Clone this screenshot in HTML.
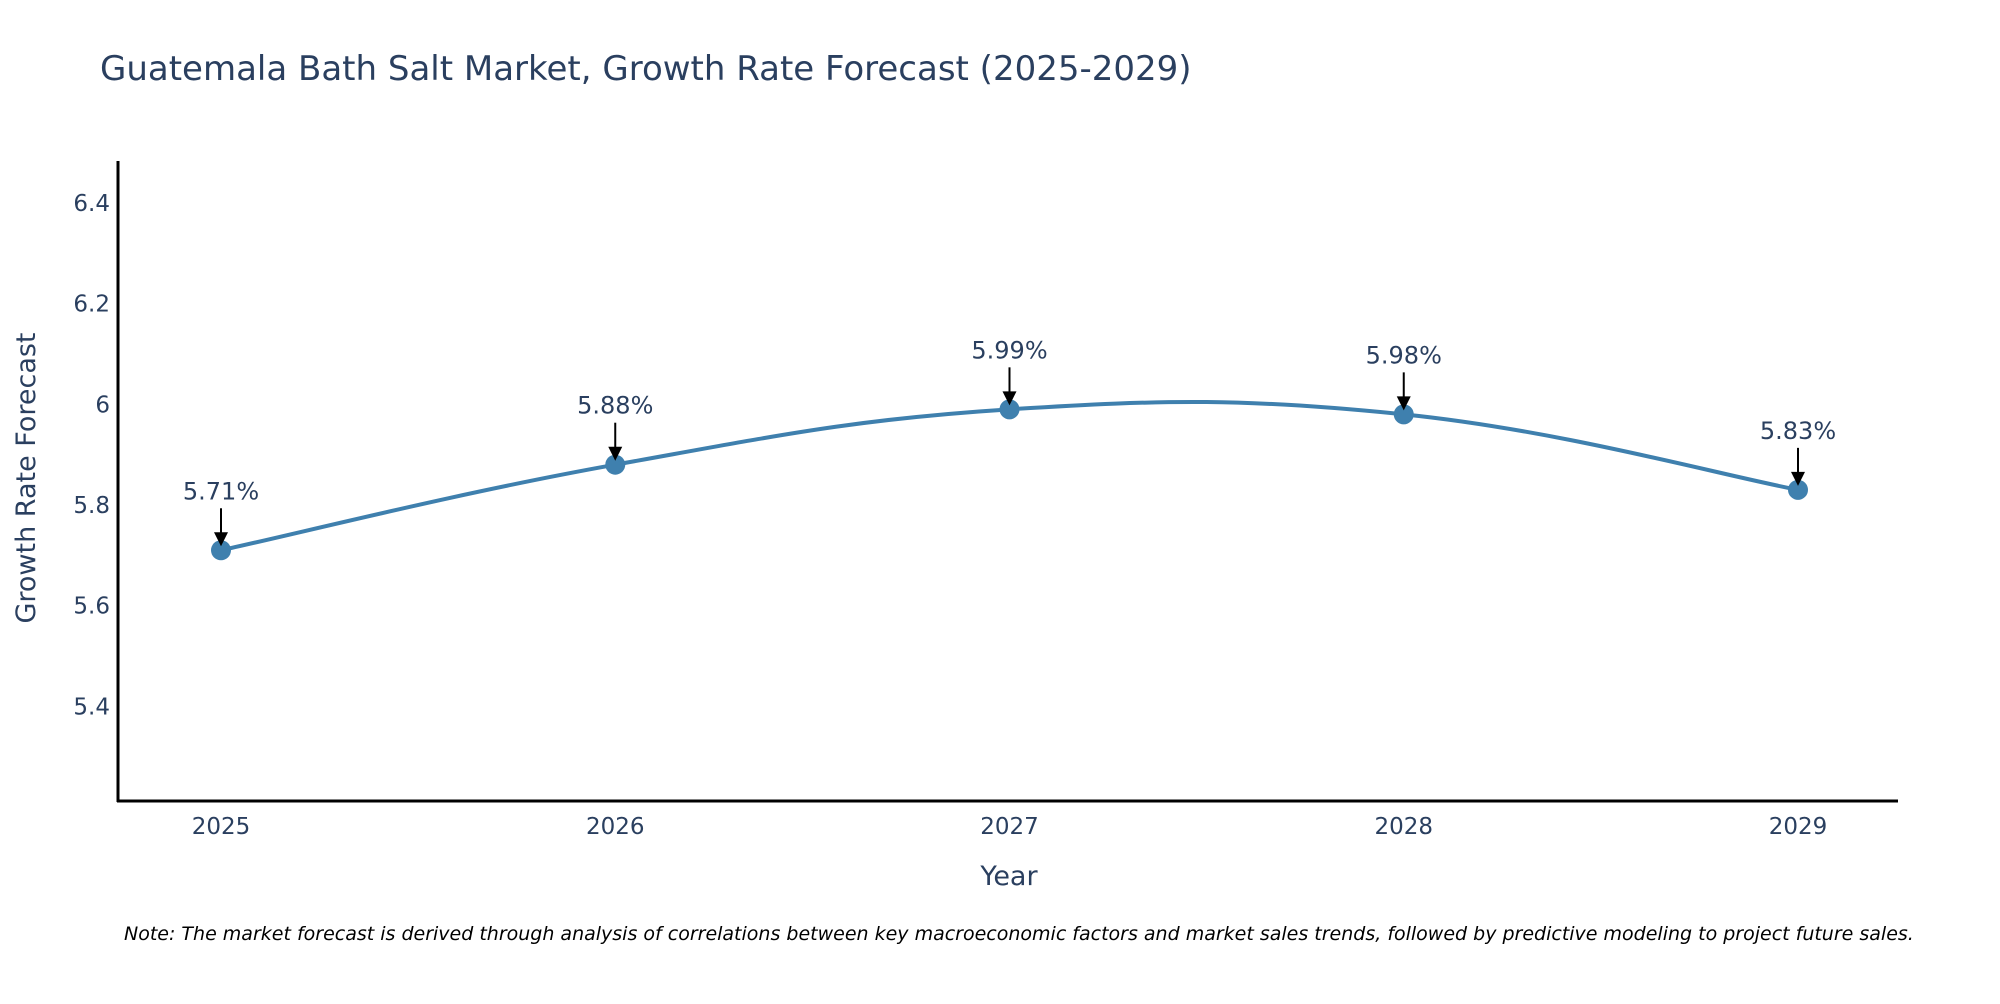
<!DOCTYPE html>
<html><head><meta charset="utf-8"><style>
body{margin:0;background:#fff;font-family:"DejaVu Sans","Liberation Sans",sans-serif;}
svg text{fill:#2a3f5f;font-family:"DejaVu Sans","Liberation Sans",sans-serif;}
</style></head><body>
<svg id="chart" width="2000" height="1000" xmlns="http://www.w3.org/2000/svg">
<text x="100" y="80" font-size="34">Guatemala Bath Salt Market, Growth Rate Forecast (2025-2029)</text>
<g id="yticks"></g>
<g id="xticks"></g>
<path id="line" fill="none" stroke="#3f80ae" stroke-width="4"/>
<g id="points"></g>
<g id="annos"></g>
<line x1="118" y1="161" x2="118" y2="802" stroke="#000" stroke-width="3"/>
<line x1="117" y1="801" x2="1898" y2="801" stroke="#000" stroke-width="3"/>
<text x="1009" y="885" font-size="27" text-anchor="middle">Year</text>
<text transform="translate(35,478) rotate(-90)" font-size="27" text-anchor="middle">Growth Rate Forecast</text>
<text x="124" y="940" font-size="19" font-style="italic" style="fill:#000">Note: The market forecast is derived through analysis of correlations between key macroeconomic factors and market sales trends, followed by predictive modeling to project future sales.</text>
</svg>
<script>
const years=[2025,2026,2027,2028,2029];
const values=[5.71,5.88,5.99,5.98,5.83];
const yTickValues=[5.4,5.6,5.8,6,6.2,6.4];
const NS="http://www.w3.org/2000/svg";
function xs(v){return 221+(v-2025)*394.25;}
function ys(v){return 404.3-(v-6)*503.3;}
function mk(tag,attrs,parent){const e=document.createElementNS(NS,tag);for(const k in attrs)e.setAttribute(k,attrs[k]);parent.appendChild(e);return e;}
const yt=document.getElementById('yticks');
yTickValues.forEach(v=>{const t=mk('text',{x:110,y:ys(v)+8,'font-size':23,'text-anchor':'end'},yt);


t.textContent=String(v);});
const xt=document.getElementById('xticks');
years.forEach(v=>{const t=mk('text',{x:xs(v),y:834,'font-size':23,'text-anchor':'middle'},xt);


t.textContent=String(v);});
const P=years.map((y,i)=>[xs(y),ys(values[i])]);
let d='M'+P[0][0]+','+P[0][1];const s=0.2;
for(let i=0;i<P.length-1;i++){const p0=P[Math.max(0,i-1)],p1=P[i],p2=P[i+1],p3=P[Math.min(P.length-1,i+2)];
const c1=[p1[0]+(p2[0]-p0[0])*s,p1[1]+(p2[1]-p0[1])*s],c2=[p2[0]-(p3[0]-p1[0])*s,p2[1]-(p3[1]-p1[1])*s];
d+=' C'+c1+' '+c2+' '+p2;}
document.getElementById('line').setAttribute('d',d);
const pts=document.getElementById('points'),an=document.getElementById('annos');
P.forEach((p,i)=>{const c=mk('circle',{cx:p[0],cy:p[1],r:10,fill:'#3f80ae'},pts);


const l=mk('line',{x1:p[0],y1:p[1]-42,x2:p[0],y2:p[1]-16,stroke:'#000','stroke-width':2},an);


const h=mk('polygon',{points:(p[0]-7)+','+(p[1]-18)+' '+(p[0]+7)+','+(p[1]-18)+' '+p[0]+','+(p[1]-4),fill:'#000'},an);


const t=mk('text',{x:p[0],y:p[1]-51,'font-size':24,'text-anchor':'middle'},an);


t.textContent=values[i].toFixed(2)+'%';});
</script>
</body></html>
